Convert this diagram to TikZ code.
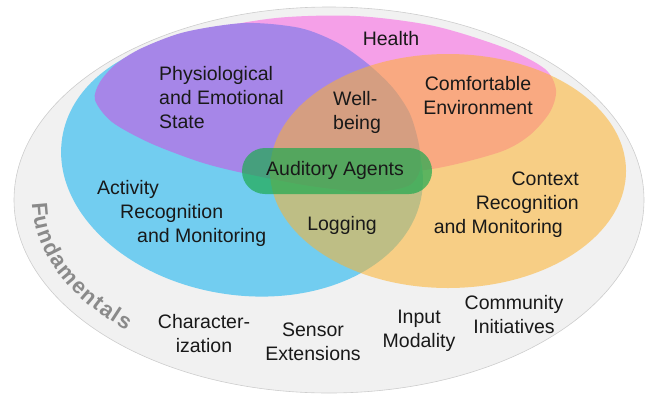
\documentclass[tikz,border=0pt]{standalone}
\usepackage{fontspec}
\setmainfont{Liberation Sans}
\usetikzlibrary{decorations.text}
\definecolor{bandgray}{RGB}{241,241,241}
\definecolor{edgegray}{RGB}{205,205,205}
\definecolor{healthpink}{RGB}{245,160,232}
\definecolor{activityblue}{RGB}{114,205,240}
\definecolor{physiopurple}{RGB}{166,134,232}
\definecolor{contextorange}{RGB}{253,178,46}
\definecolor{agentgreen}{RGB}{30,170,80}
\definecolor{fundgray}{RGB}{138,138,138}
\definecolor{labelblack}{RGB}{25,25,25}
\newcommand\fundfont{\fontsize{22}{26}\selectfont\bfseries}

\begin{document}
\begin{tikzpicture}[x=1pt, y=-1pt,
    every node/.style={inner sep=0pt, text=labelblack, font=\fontsize{19.5}{24}\selectfont}]
    \useasboundingbox (0,0) rectangle (647,394);
    \filldraw[fill=bandgray, draw=edgegray, line width=0.6pt] (329,200) ellipse (315 and 193);
    \fill[healthpink] plot[smooth cycle] coordinates {
        (112,76) (132,58) (200,32) (276,18) (356,16) (434,26) (505,48) (545,69)
        (556,90) (550,112) (530,135) (500,152) (432,169) (350,175) (250,160)
        (150,130) (108,100)};
    \fill[activityblue, rotate around={-9:(242,166)}] (242,166) ellipse (182 and 129);
    \fill[physiopurple] plot[smooth cycle] coordinates {
        (95,100) (100,82) (116,64) (142,48) (185,32) (245,23) (300,28) (338,43)
        (368,64) (393,88) (410,114) (419,145) (420,170) (408,186) (370,192)
        (310,186) (243,173) (200,162) (150,143) (112,122)};
    \fill[contextorange, fill opacity=0.55] (448,171) ellipse (178 and 117);
    \fill[agentgreen, fill opacity=0.7, rounded corners=23pt] (242,148) rectangle (432,194);
    \node (health) at (391,39) {Health};
    \node[anchor=west, align=left] (physio) at (159,98) {Physiological\\and Emotional\\State};
    \node[anchor=west, align=left] (wellbeing) at (333,112.5) {Well-\\being};
    \node[align=center] (comfort) at (478,95.5) {Comfortable\\Environment};
    \node (agents) at (335,170) {Auditory Agents};
    \node[anchor=west, align=left] (activity) at (97,213)
        {Activity\\\hspace*{23pt}Recognition\\\hspace*{40pt}and Monitoring};
    \node[anchor=east, align=right] (context) at (579,205)
        {Context\\Recognition\\and Monitoring\rule{16pt}{0pt}};
    \node (logging) at (342,225) {Logging};
    \node[align=center] (charact) at (204,334) {Character-\\ization};
    \node[align=center] (sensor) at (313,342) {Sensor\\Extensions};
    \node[align=center] (input) at (419,331) {Input\\Modality};
    \node[align=center] (community) at (514,315) {Community\\Initiatives};
    \path[decorate, decoration={text along path, text color=fundgray,
        text align=fit to path, text={|\fundfont|Fundamentals}}]
        plot[domain=179:133, samples=60, variable=\t] ({329+297*cos(\t)}, {200+178*sin(\t)});
\end{tikzpicture}
\end{document}
